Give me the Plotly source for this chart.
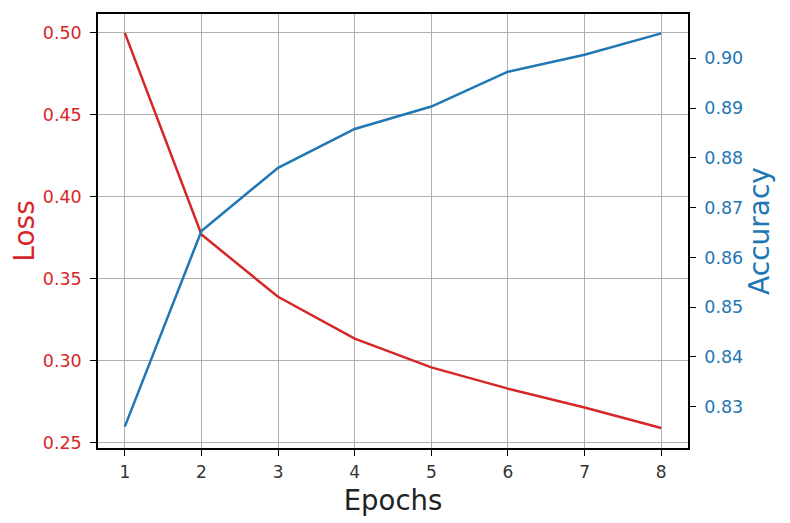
import plotly.graph_objects as go

epochs = [1, 2, 3, 4, 5, 6, 7, 8]
loss = [0.500, 0.377, 0.339, 0.3135, 0.296, 0.283, 0.2715, 0.259]
accuracy = [0.826, 0.8653, 0.878, 0.8858, 0.8903, 0.8973, 0.9007, 0.905]

loss_ticks = [0.25, 0.30, 0.35, 0.40, 0.45, 0.50]
acc_ticks = [0.83, 0.84, 0.85, 0.86, 0.87, 0.88, 0.89, 0.90]

RED = "#d62728"
BLUE = "#1f77b4"
FONT = "DejaVu Sans"

fig = go.Figure()
fig.add_trace(go.Scatter(x=epochs, y=loss, mode="lines", line=dict(color=RED, width=2.5),
                         yaxis="y", showlegend=False))
fig.add_trace(go.Scatter(x=epochs, y=accuracy, mode="lines", line=dict(color=BLUE, width=2.5),
                         yaxis="y2", showlegend=False))

fig.update_layout(
    width=782, height=515,
    margin=dict(l=89, r=102, t=4, b=75),
    paper_bgcolor="white", plot_bgcolor="white",
    font=dict(family=FONT, size=17, color="black"),
    xaxis=dict(
        range=[0.65, 8.35], tickvals=epochs, ticktext=[str(e) for e in epochs],
        showline=True, linecolor="black", linewidth=1.5, mirror=True,
        ticks="outside", ticklen=6, tickcolor="black", tickwidth=1.2,
        showgrid=True, gridcolor="#b0b0b0", gridwidth=1, zeroline=False,
        tickfont=dict(size=17, color="#333"), ticklabelstandoff=2,
        title=dict(text="Epochs", font=dict(size=27.5, color="#222"), standoff=10),
    ),
    yaxis=dict(
        range=[0.2468, 0.5115], tickvals=loss_ticks, ticktext=[f"{v:.2f}" for v in loss_ticks],
        showline=True, linecolor="black", linewidth=1.5, mirror=True,
        ticks="outside", ticklen=6, tickcolor="black", tickwidth=1.2,
        showgrid=True, gridcolor="#b0b0b0", gridwidth=1, zeroline=False,
        tickfont=dict(size=17.5, color=RED), ticklabelstandoff=5,
        title=dict(text="Loss", font=dict(size=28, color=RED), standoff=11),
    ),
    yaxis2=dict(
        range=[0.8217, 0.9089], tickvals=acc_ticks, ticktext=[f"{v:.2f}" for v in acc_ticks],
        overlaying="y", side="right", anchor="x",
        showline=True, linecolor="black", linewidth=1.5,
        ticks="outside", ticklen=6, tickcolor="black", tickwidth=1.2,
        showgrid=False, zeroline=False,
        tickfont=dict(size=17.5, color=BLUE), ticklabelstandoff=5,
        title=dict(text="Accuracy", font=dict(size=28, color=BLUE), standoff=6),
    ),
)

fig.write_html("out.html")
